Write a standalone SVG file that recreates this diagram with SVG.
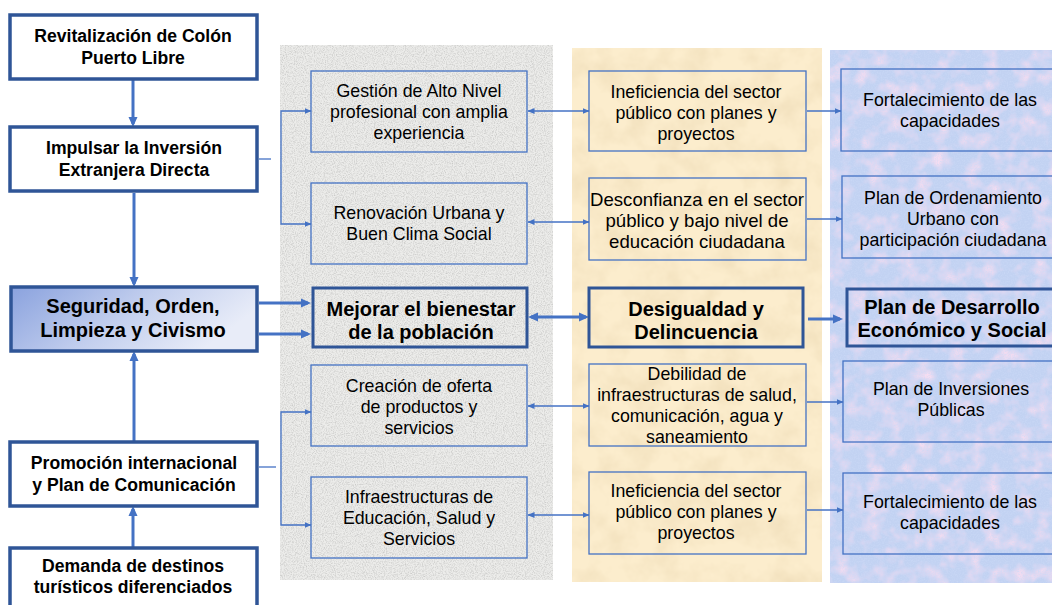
<svg xmlns="http://www.w3.org/2000/svg" width="1052" height="605" viewBox="0 0 1052 605">
<style>
  .bg { fill: #ffffff; }
  .lbox { fill: #ffffff; stroke: #2F5597; stroke-width: 3.5; }
  .tbox { fill: none; stroke: #4472C4; stroke-width: 1.3; }
  .kbox { fill: none; stroke: #2F5597; stroke-width: 3; }
  .thin { fill: none; stroke: #4472C4; stroke-width: 1.3; }
  .thick { fill: none; stroke: #4472C4; stroke-width: 3; }
  text { font-family: "Liberation Sans", Arial, sans-serif; fill: #000; text-anchor: middle; }
  .b { font-weight: bold; font-size: 17.6px; }
  .bb { font-weight: bold; font-size: 20px; }
  .r { font-size: 17.8px; }
  .rl { font-size: 18.6px; }
</style>
<defs>
  <linearGradient id="gSeg" x1="0" y1="0" x2="1" y2="0.35">
    <stop offset="0" stop-color="#8AA2DE"/>
    <stop offset="0.55" stop-color="#C3CFEE"/>
    <stop offset="1" stop-color="#E8ECF8"/>
  </linearGradient>
  <filter id="fGray" x="0" y="0" width="1" height="1">
    <feTurbulence type="fractalNoise" baseFrequency="0.9" numOctaves="3" seed="3"/>
    <feColorMatrix type="matrix" values="0 0 0 0 0.55  0 0 0 0 0.55  0 0 0 0 0.54  1.7 0 0 0 -0.68"/>
  </filter>
  <filter id="fYel" x="0" y="0" width="1" height="1">
    <feTurbulence type="fractalNoise" baseFrequency="0.035" numOctaves="4" seed="7"/>
    <feColorMatrix type="matrix" values="0 0 0 0 0.86  0 0 0 0 0.72  0 0 0 0 0.48  1.5 0 0 0 -0.58"/>
  </filter>
  <filter id="fBluP" x="0" y="0" width="1" height="1">
    <feTurbulence type="fractalNoise" baseFrequency="0.06" numOctaves="3" seed="11"/>
    <feColorMatrix type="matrix" values="0 0 0 0 0.92  0 0 0 0 0.72  0 0 0 0 0.88  2.2 0 0 0 -0.95"/>
  </filter>
  <filter id="fBluF" x="0" y="0" width="1" height="1">
    <feTurbulence type="fractalNoise" baseFrequency="0.7" numOctaves="2" seed="5"/>
    <feColorMatrix type="matrix" values="0 0 0 0 0.60  0 0 0 0 0.70  0 0 0 0 0.93  1.5 0 0 0 -0.62"/>
  </filter>
  <marker id="ah" markerUnits="userSpaceOnUse" markerWidth="7" markerHeight="6" refX="6.5" refY="3" orient="auto-start-reverse">
    <path d="M0,0 L7,3 L0,6 z" fill="#4472C4"/>
  </marker>
  <marker id="ahT" markerUnits="userSpaceOnUse" markerWidth="10" markerHeight="10" refX="7" refY="5" orient="auto-start-reverse">
    <path d="M0,0.5 L10,5 L0,9.5 z" fill="#4472C4"/>
  </marker>
</defs>

<rect class="bg" x="0" y="0" width="1052" height="605"/>

<g id="panels">
  <rect x="280" y="45" width="273" height="535" fill="#ECECEA"/>
  <rect x="280" y="45" width="273" height="535" filter="url(#fGray)"/>
  <rect x="572" y="48" width="250" height="534" fill="#FCEDCD"/>
  <rect x="572" y="48" width="250" height="534" filter="url(#fYel)"/>
  <rect x="830" y="50" width="222" height="533" fill="#C2D2F2"/>
  <rect x="830" y="50" width="222" height="533" filter="url(#fBluP)"/>
  <rect x="830" y="50" width="222" height="533" filter="url(#fBluF)"/>
</g>

<g id="connectors">
  <line class="thick" x1="133" y1="80" x2="133" y2="124" marker-end="url(#ahT)"/>
  <line class="thick" x1="134" y1="193" x2="134" y2="284" marker-end="url(#ahT)"/>
  <line class="thick" x1="134" y1="441" x2="134" y2="354" marker-end="url(#ahT)"/>
  <line class="thick" x1="133" y1="547" x2="133" y2="509" marker-end="url(#ahT)"/>
  <line class="thick" x1="259" y1="303" x2="308" y2="303" marker-end="url(#ahT)"/>
  <line class="thick" x1="259" y1="334" x2="308" y2="334" marker-end="url(#ahT)"/>
  <line class="thin" x1="259" y1="159" x2="271" y2="159"/>
  <polyline class="thin" points="311,111 281,111 281,224 311,224" marker-start="url(#ah)" marker-end="url(#ah)"/>
  <line class="thin" x1="259" y1="467" x2="276" y2="467"/>
  <polyline class="thin" points="311,412 281,412 281,525 311,525" marker-start="url(#ah)" marker-end="url(#ah)"/>
  <line class="thin" x1="528" y1="111" x2="589" y2="111" marker-start="url(#ah)" marker-end="url(#ah)"/>
  <line class="thin" x1="528" y1="222" x2="589" y2="222" marker-start="url(#ah)" marker-end="url(#ah)"/>
  <line class="thin" x1="528" y1="406" x2="589" y2="406" marker-start="url(#ah)" marker-end="url(#ah)"/>
  <line class="thin" x1="528" y1="515" x2="589" y2="515" marker-start="url(#ah)" marker-end="url(#ah)"/>
  <line class="thick" x1="531" y1="317" x2="586" y2="317" marker-start="url(#ahT)" marker-end="url(#ahT)"/>
  <line class="thin" x1="807" y1="111" x2="841" y2="111" marker-end="url(#ah)"/>
  <line class="thin" x1="807" y1="219" x2="842" y2="219" marker-end="url(#ah)"/>
  <line class="thin" x1="807" y1="402" x2="843" y2="402" marker-end="url(#ah)"/>
  <line class="thin" x1="807" y1="510" x2="843" y2="510" marker-end="url(#ah)"/>
  <line class="thick" x1="808" y1="319" x2="840" y2="319" marker-end="url(#ahT)"/>
</g>

<g id="n-revitalizacion">
  <rect class="lbox" x="10" y="15" width="247" height="64"/>
  <text class="b" x="133" y="42">Revitalización de Colón</text>
  <text class="b" x="133" y="64">Puerto Libre</text>
</g>
<g id="n-impulsar">
  <rect class="lbox" x="10" y="127" width="247" height="64"/>
  <text class="b" x="134" y="154">Impulsar la Inversión</text>
  <text class="b" x="134" y="176">Extranjera Directa</text>
</g>
<g id="n-seguridad">
  <rect x="11" y="287" width="246" height="64" fill="url(#gSeg)" stroke="#2F5597" stroke-width="3.5"/>
  <text class="bb" x="133" y="313">Seguridad, Orden,</text>
  <text class="bb" x="133" y="337">Limpieza y Civismo</text>
</g>
<g id="n-promocion">
  <rect class="lbox" x="10" y="442" width="247" height="64"/>
  <text class="b" x="134" y="469">Promoción internacional</text>
  <text class="b" x="134" y="491">y Plan de Comunicación</text>
</g>
<g id="n-demanda">
  <rect class="lbox" x="10" y="548" width="247" height="80"/>
  <text class="b" x="133" y="572">Demanda de destinos</text>
  <text class="b" x="133" y="593">turísticos diferenciados</text>
</g>

<g id="n-gestion">
  <rect class="tbox" x="311" y="71" width="216" height="81"/>
  <text class="r" x="419" y="97">Gestión de Alto Nivel</text>
  <text class="r" x="419" y="118">profesional con amplia</text>
  <text class="r" x="419" y="139">experiencia</text>
</g>
<g id="n-renovacion">
  <rect class="tbox" x="311" y="183" width="216" height="81"/>
  <text class="r" x="419" y="218.5">Renovación Urbana y</text>
  <text class="r" x="419" y="239.5">Buen Clima Social</text>
</g>
<g id="n-mejorar">
  <rect class="kbox" x="313" y="288" width="214" height="59"/>
  <text class="bb" x="421" y="315.5">Mejorar el bienestar</text>
  <text class="bb" x="421" y="338.5">de la población</text>
</g>
<g id="n-creacion">
  <rect class="tbox" x="311" y="365" width="216" height="81"/>
  <text class="r" x="419" y="392">Creación de oferta</text>
  <text class="r" x="419" y="413">de productos y</text>
  <text class="r" x="419" y="434">servicios</text>
</g>
<g id="n-infraestructuras">
  <rect class="tbox" x="311" y="477" width="216" height="81"/>
  <text class="r" x="419" y="503">Infraestructuras de</text>
  <text class="r" x="419" y="524">Educación, Salud y</text>
  <text class="r" x="419" y="545">Servicios</text>
</g>

<g id="n-ineficiencia1">
  <rect class="tbox" x="589" y="71" width="217" height="80"/>
  <text class="r" x="696" y="97.5">Ineficiencia del sector</text>
  <text class="r" x="696" y="118.5">público con planes y</text>
  <text class="r" x="696" y="139.5">proyectos</text>
</g>
<g id="n-desconfianza">
  <rect class="tbox" x="589" y="178" width="217" height="82"/>
  <text class="rl" x="697" y="206">Desconfianza en el sector</text>
  <text class="rl" x="697" y="227">público y bajo nivel de</text>
  <text class="rl" x="697" y="248">educación ciudadana</text>
</g>
<g id="n-desigualdad">
  <rect class="kbox" x="589" y="288" width="214" height="59"/>
  <text class="bb" x="696" y="315.5">Desigualdad y</text>
  <text class="bb" x="696" y="339">Delincuencia</text>
</g>
<g id="n-debilidad">
  <rect class="tbox" x="589" y="364" width="217" height="82"/>
  <text class="r" x="697" y="380">Debilidad de</text>
  <text class="r" x="697" y="401">infraestructuras de salud,</text>
  <text class="r" x="697" y="422">comunicación, agua y</text>
  <text class="r" x="697" y="443">saneamiento</text>
</g>
<g id="n-ineficiencia2">
  <rect class="tbox" x="589" y="472" width="217" height="82"/>
  <text class="r" x="696" y="497">Ineficiencia del sector</text>
  <text class="r" x="696" y="518">público con planes y</text>
  <text class="r" x="696" y="539">proyectos</text>
</g>

<g id="n-fortalecimiento1">
  <rect class="tbox" x="841" y="69" width="215" height="82"/>
  <text class="r" x="950" y="105.5">Fortalecimiento de las</text>
  <text class="r" x="950" y="126.5">capacidades</text>
</g>
<g id="n-ordenamiento">
  <rect class="tbox" x="842" y="176" width="215" height="82"/>
  <text class="r" x="953" y="203.5">Plan de Ordenamiento</text>
  <text class="r" x="953" y="224.5">Urbano con</text>
  <text class="r" x="953" y="245.5">participación ciudadana</text>
</g>
<g id="n-desarrollo">
  <rect class="kbox" x="847" y="289" width="215" height="57"/>
  <text class="bb" x="952" y="313.5">Plan de Desarrollo</text>
  <text class="bb" x="952" y="337">Económico y Social</text>
</g>
<g id="n-inversiones">
  <rect class="tbox" x="843" y="361" width="215" height="81"/>
  <text class="r" x="951" y="395">Plan de Inversiones</text>
  <text class="r" x="951" y="416">Públicas</text>
</g>
<g id="n-fortalecimiento2">
  <rect class="tbox" x="843" y="473" width="215" height="81"/>
  <text class="r" x="950" y="507.5">Fortalecimiento de las</text>
  <text class="r" x="950" y="528.5">capacidades</text>
</g>
</svg>
